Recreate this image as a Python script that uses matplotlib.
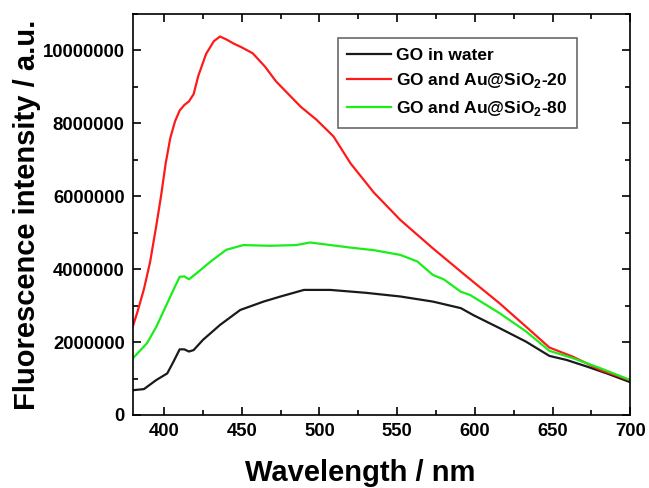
import numpy as np
import matplotlib
matplotlib.use("Agg")
import matplotlib.pyplot as plt
from matplotlib.ticker import MultipleLocator

plt.rcParams['font.family'] = ['Liberation Sans', 'DejaVu Sans']
plt.rcParams['font.weight'] = 'bold'
plt.rcParams['mathtext.fontset'] = 'custom'
plt.rcParams['mathtext.rm'] = 'Liberation Sans:bold'
plt.rcParams['mathtext.bf'] = 'Liberation Sans:bold'

# GO in water (wavelength nm, intensity in millions)
wl_water = [380, 387, 395, 402, 406, 410, 413, 416, 419, 425, 436, 449, 464, 475,
            490, 507, 530, 552, 573, 591, 599, 616, 633, 648, 659, 672, 685, 700]
int_water = [0.68, 0.71, 0.96, 1.14, 1.46, 1.80, 1.80, 1.74, 1.78, 2.06, 2.47, 2.88,
             3.11, 3.25, 3.43, 3.43, 3.35, 3.25, 3.11, 2.93, 2.74, 2.38, 2.01, 1.62,
             1.51, 1.33, 1.14, 0.90]

# GO and Au@SiO2-20
wl_20 = [380, 383, 387, 391, 395, 398, 401, 404, 407, 410, 413, 416, 419, 422, 427,
         432, 436, 440, 445, 450, 457, 465, 472, 480, 488, 498, 509, 520, 535, 552,
         573, 595, 616, 633, 648, 663, 681, 700]
int_20 = [2.45, 2.85, 3.45, 4.2, 5.2, 6.0, 6.9, 7.6, 8.05, 8.35, 8.5, 8.6, 8.8, 9.3,
          9.9, 10.25, 10.38, 10.3, 10.18, 10.08, 9.92, 9.55, 9.15, 8.8, 8.45, 8.1,
          7.64, 6.9, 6.1, 5.35, 4.57, 3.79, 3.06, 2.42, 1.85, 1.6, 1.23, 0.95]

# GO and Au@SiO2-80
wl_80 = [380, 389, 395, 400, 404, 410, 413, 416, 421, 430, 440, 451, 468, 485, 494,
         507, 520, 535, 552, 563, 573, 580, 591, 597, 616, 633, 648, 663, 681, 700]
int_80 = [1.56, 1.97, 2.42, 2.88, 3.25, 3.79, 3.80, 3.72, 3.89, 4.21, 4.53, 4.66,
          4.64, 4.66, 4.73, 4.66, 4.59, 4.52, 4.39, 4.21, 3.84, 3.72, 3.38, 3.29,
          2.79, 2.29, 1.76, 1.56, 1.28, 0.96]

labels = ['GO in water', r'GO and Au@SiO$_2$-20', r'GO and Au@SiO$_2$-80']
colors = ['#1a1a1a', '#ff1a1a', '#1aee1a']

fig = plt.figure(figsize=(6.49, 4.88), dpi=100)
ax = fig.add_axes([0.205, 0.1496, 0.766, 0.822])

for wl, val, lab, c in zip([wl_water, wl_20, wl_80], [int_water, int_20, int_80], labels, colors):
    ax.plot(wl, np.array(val) * 1e6, color=c, lw=1.6, label=lab)

ax.set_xlim(380, 700)
ax.set_ylim(0, 11e6)
ax.xaxis.set_major_locator(MultipleLocator(50))
ax.xaxis.set_minor_locator(MultipleLocator(25))
ax.yaxis.set_major_locator(MultipleLocator(2e6))
ax.yaxis.set_minor_locator(MultipleLocator(1e6))
ax.yaxis.set_major_formatter(plt.FuncFormatter(lambda v, p: f"{int(v)}"))

for s in ax.spines.values():
    s.set_linewidth(1.2)
ax.tick_params(which='both', direction='in', top=True, right=True, width=1.2, labelsize=13.3)
ax.tick_params(which='major', length=6)
ax.tick_params(which='minor', length=3.5)
ax.tick_params(axis='y', pad=6)
ax.tick_params(axis='x', pad=6)
for t in ax.get_xticklabels() + ax.get_yticklabels():
    t.set_fontweight('bold')

ax.set_xlabel('Wavelength / nm', fontsize=21, fontweight='bold')
ax.xaxis.set_label_coords(0.457, -0.11)
ax.set_ylabel('Fluorescence intensity / a.u.', fontsize=21, fontweight='bold', labelpad=1.5)

leg = ax.legend(loc='upper left', bbox_to_anchor=(0.412, 0.94), borderaxespad=0,
                fancybox=False, edgecolor='#444444', fontsize=12.5, handlelength=2.5,
                handletextpad=0.3, labelspacing=0.5, borderpad=0.55)
leg.get_frame().set_linewidth(1.2)
for t in leg.get_texts():
    t.set_fontweight('bold')

fig.savefig('out.png', dpi=100)
